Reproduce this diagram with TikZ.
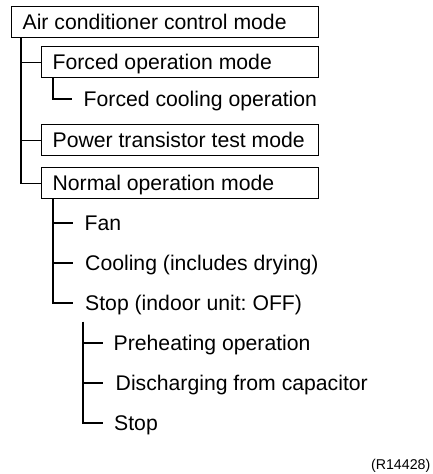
\documentclass[tikz,border=0pt]{standalone}
\usepackage{fontspec}
\setmainfont{Liberation Sans}
\usetikzlibrary{calc}
\frenchspacing
\begin{document}
\begin{tikzpicture}[x=1pt,y=-1pt,
  txt/.style={font=\fontsize{21.2}{24}\selectfont, text height=15.2pt, text depth=0pt},
  box/.style={txt, draw, line width=1.3pt, anchor=north west, minimum height=31pt,
    inner xsep=11pt, inner ysep=0pt},
  leaf/.style={txt, anchor=west, inner sep=0pt},
  conn/.style={line width=1.3pt}]
\useasboundingbox (0,0) rectangle (432,474);
% boxes
\node[box] (b1) at (11,5.5) {\makebox[285pt][l]{Air conditioner control mode}};
\node[box] (b2) at (41,46) {\makebox[255pt][l]{Forced operation mode}};
\node[box] (b3) at (41,124) {\makebox[255pt][l]{Power transistor test mode}};
\node[box] (b4) at (41,167) {\makebox[255pt][l]{Normal operation mode}};
% leaves
\node[leaf] (fc) at (83.5,99) {Forced cooling operation};
\node[leaf] (fan) at (84.5,223) {Fan};
\node[leaf] (cool) at (85,263) {Cooling (includes drying)};
\node[leaf] (stop1) at (85,303) {Stop (indoor unit:\ OFF)};
\node[leaf] (pre) at (113.5,343) {Preheating operation};
\node[leaf] (dis) at (115.5,383) {Discharging from capacitor};
\node[leaf] (stop2) at (114,423) {Stop};
\node[font=\fontsize{14.2}{16}\selectfont, anchor=base east, inner sep=0pt] (ref) at (430.5,469) {(R14428)};
% connectors
\coordinate (v1) at ($(b1.south west)+(10,0)$);
\draw[conn] (v1) |- (b2.west);
\draw[conn] (v1) |- (b3.west);
\draw[conn] (v1) |- (b4.west);
\coordinate (v2) at ($(b2.south west)+(12,0)$);
\draw[conn, shorten >=11.5pt] (v2) |- (fc.west);
\coordinate (v4) at ($(b4.south west)+(12,0)$);
\draw[conn, shorten >=11.5pt] (v4) |- (fan.west);
\draw[conn, shorten >=12pt] (v4) |- (cool.west);
\draw[conn, shorten >=12pt] (v4) |- (stop1.west);
\coordinate (v5) at ($(stop1.south west)+(-2,11)$);
\draw[conn, shorten >=10.5pt] (v5) |- (pre.west);
\draw[conn, shorten >=12.5pt] (v5) |- (dis.west);
\draw[conn, shorten >=11pt] (v5) |- (stop2.west);
\end{tikzpicture}
\end{document}
